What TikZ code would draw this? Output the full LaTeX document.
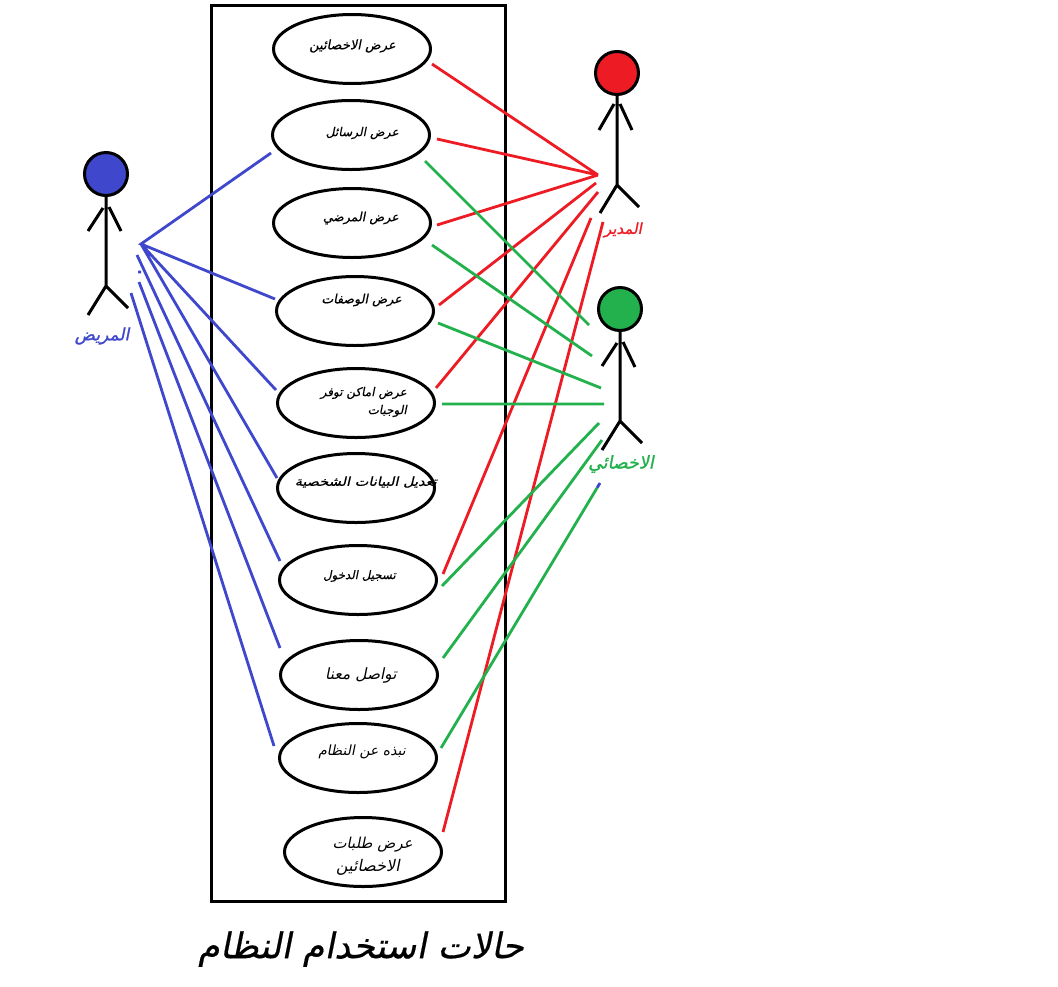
\documentclass[tikz,border=0pt]{standalone}
\usepackage{fontspec}
\TeXXeTstate=1
\newfontfamily\arabicfont[Script=Arabic,FakeSlant=0.2]{DejaVu Sans}
\newfontfamily\arabicmedium[Script=Arabic,FakeSlant=0.2,FakeBold=0.5]{DejaVu Sans}
\newfontfamily\arabicbold[Script=Arabic,FakeSlant=0.2,FakeBold=1.2]{DejaVu Sans}
\definecolor{pred}{HTML}{ED1C24}
\definecolor{pgreen}{HTML}{22B14C}
\definecolor{pblue}{HTML}{3F48CC}
\newcommand{\artxt}[1]{\arabicfont\beginR #1\endR}
\newcommand{\armed}[1]{\arabicmedium\beginR #1\endR}
\newcommand{\arbold}[1]{\arabicbold\beginR #1\endR}
\newcommand{\fsz}[1]{\fontsize{#1}{#1}\selectfont}
\usetikzlibrary{shapes.geometric}
\tikzset{
  usecase/.style={draw=black,line width=3pt,ellipse,minimum width=157pt,minimum height=69pt,inner sep=0pt},
  uclabel/.style={inner sep=0pt,anchor=east},
  actorlabel/.style={inner sep=0pt},
  limb/.style={draw=black,line width=3pt},
  head/.style={circle,draw=black,line width=3pt,minimum size=43pt,inner sep=0pt},
  redline/.style={draw=pred,line width=2.8pt},
  greenline/.style={draw=pgreen,line width=2.8pt},
  blueline/.style={draw=pblue,line width=2.8pt},
}
\begin{document}
\begin{tikzpicture}[x=1pt,y=-1pt]
\useasboundingbox (0,0) rectangle (1058,986);
\fill[white] (0,0) rectangle (1058,986);
\node[draw=black,line width=3pt,minimum width=294pt,minimum height=896pt,inner sep=0pt] (system) at (358,453) {};

% use cases
\node[usecase] (e1) at (352,49) {};
\node[usecase] (e2) at (351,135) {};
\node[usecase] (e3) at (352,223) {};
\node[usecase] (e4) at (355,311) {};
\node[usecase] (e5) at (356,403) {};
\node[usecase] (e6) at (356,488) {};
\node[usecase] (e7) at (358,580) {};
\node[usecase] (e8) at (359,675) {};
\node[usecase] (e9) at (358,758) {};
\node[usecase] (e10) at (363,852) {};

\node[uclabel,font=\fsz{13}] (t1) at (396,46) {\armed{عرض الاخصائين}};
\node[uclabel,font=\fsz{12.2}] (t2) at (399,133) {\armed{عرض الرسائل}};
\node[uclabel,font=\fsz{12.5}] (t3) at (399,218) {\armed{عرض المرضي}};
\node[uclabel,font=\fsz{12.6}] (t4) at (402,300) {\armed{عرض الوصفات}};
\node[uclabel,font=\fsz{12}] (t5a) at (407,393) {\armed{عرض اماكن توفر}};
\node[uclabel,font=\fsz{12}] (t5b) at (407,411) {\armed{الوجبات}};
\node[uclabel,font=\fsz{12.5}] (t6) at (437,482) {\scalebox{1.16}[1]{\armed{تعديل البيانات الشخصية}}};
\node[uclabel,font=\fsz{11.8}] (t7) at (396,576) {\armed{تسجيل الدخول}};
\node[uclabel,font=\fsz{15.5}] (t8) at (397,675) {\artxt{تواصل معنا}};
\node[uclabel,font=\fsz{14}] (t9) at (406,752) {\artxt{نبذه عن النظام}};
\node[uclabel,font=\fsz{15}] (t10a) at (413,845) {\artxt{عرض طلبات}};
\node[uclabel,font=\fsz{16}] (t10b) at (400,867) {\artxt{الاخصائين}};

% title
\node[inner sep=0pt,font=\fsz{35.5}] (title) at (361,949) {\armed{حالات استخدام النظام}};

% actors
\node[head,fill=pred] (hr) at (617,73) {};
\coordinate (rhip) at (617,185);
\coordinate (rla) at (599,130); \coordinate (rla0) at (614,104);
\coordinate (rra) at (632,130); \coordinate (rra0) at (620,104);
\coordinate (rll) at (600,213); \coordinate (rrl) at (639,207);
\draw[limb] (hr) -- (hr|-rhip) (rla0) -- (rla) (rra0) -- (rra) (rll) -- (rhip) -- (rrl);
\node[actorlabel,text=pred,font=\fsz{15}] (lr) at (623,230) {\arbold{المدير}};

\node[head,fill=pgreen] (hg) at (620,309) {};
\coordinate (ghip) at (620,421);
\coordinate (gla) at (602,366); \coordinate (gla0) at (617,343);
\coordinate (gra) at (635,367); \coordinate (gra0) at (623,342);
\coordinate (gll) at (602,450); \coordinate (grl) at (642,443);
\draw[limb] (hg) -- (hg|-ghip) (gla0) -- (gla) (gra0) -- (gra) (gll) -- (ghip) -- (grl);
\node[actorlabel,text=pgreen,font=\fsz{17.5}] (lg) at (621,464) {\arbold{الاخصائي}};

\node[head,fill=pblue] (hb) at (106,174) {};
\coordinate (bhip) at (106,286);
\coordinate (bla) at (88,231); \coordinate (bla0) at (103,208);
\coordinate (bra) at (121,231); \coordinate (bra0) at (109,207);
\coordinate (bll) at (88,315); \coordinate (brl) at (128,308);
\draw[limb] (hb) -- (hb|-bhip) (bla0) -- (bla) (bra0) -- (bra) (bll) -- (bhip) -- (brl);
\node[actorlabel,text=pblue,font=\fsz{17}] (lb) at (102,336) {\arbold{المريض}};

% blue connectors
\coordinate (bh) at (141,244);
\coordinate (b1) at (271,153); \coordinate (b2) at (275,299);
\coordinate (b3) at (276,390); \coordinate (b4) at (277,478);
\draw[blueline] (b1) -- (bh) -- (b2) (bh) -- (b3) (bh) -- (b4);
\coordinate (b5s) at (137,255); \coordinate (b5) at (280,561);
\coordinate (b6s) at (139,282); \coordinate (b6) at (280,648);
\coordinate (b7s) at (131,293); \coordinate (b7) at (274,746);
\coordinate (bd1) at (138,272); \coordinate (bd2) at (141,272);
\coordinate (bt1) at (597,488); \coordinate (bt2) at (600,483);
\draw[blueline] (b5s) -- (b5) (b6s) -- (b6) (b7s) -- (b7) (bd1) -- (bd2) (bt1) -- (bt2);

% red connectors
\coordinate (r1a) at (432,64); \coordinate (r2a) at (437,139); \coordinate (r3a) at (437,225);
\coordinate (r4a) at (439,305); \coordinate (r5a) at (436,388); \coordinate (r7a) at (443,574);
\coordinate (r10a) at (443,832);
\coordinate (ra) at (598,175); \coordinate (rb) at (596,183); \coordinate (rc) at (598,192);
\coordinate (rd) at (591,218); \coordinate (re) at (603,222);
\draw[redline] (r1a) -- (ra) (r2a) -- (ra) (r3a) -- (ra) (r4a) -- (rb) (r5a) -- (rc) (r7a) -- (rd) (r10a) -- (re);

% green connectors
\coordinate (g2a) at (425,161); \coordinate (g2b) at (589,325);
\coordinate (g3a) at (432,245); \coordinate (g3b) at (592,356);
\coordinate (g4a) at (438,323); \coordinate (g4b) at (601,388);
\coordinate (g5a) at (442,404); \coordinate (g5b) at (604,404);
\coordinate (g7a) at (442,586); \coordinate (g7b) at (599,423);
\coordinate (g8a) at (443,658); \coordinate (g8b) at (602,440);
\coordinate (g9a) at (441,748); \coordinate (g9b) at (597,488);
\draw[greenline] (g2a) -- (g2b) (g3a) -- (g3b) (g4a) -- (g4b) (g5a) -- (g5b) (g7a) -- (g7b) (g8a) -- (g8b) (g9a) -- (g9b);
\end{tikzpicture}
\end{document}
